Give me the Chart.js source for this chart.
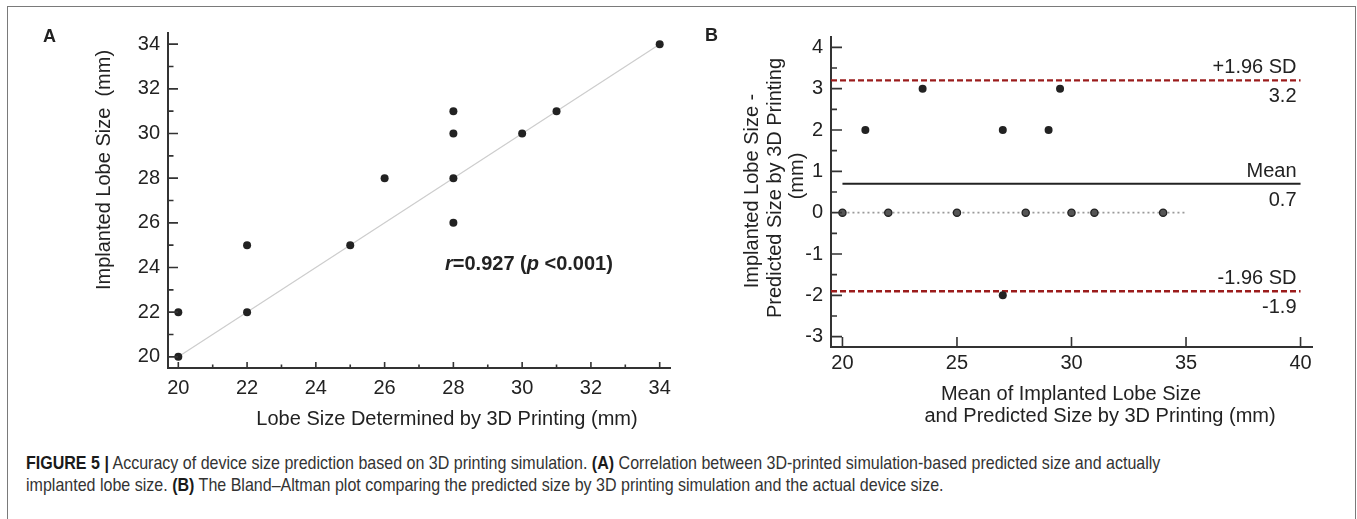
<!DOCTYPE html>
<html>
<head>
<meta charset="utf-8">
<script src="https://cdn.jsdelivr.net/npm/chart.js@4.4.1/dist/chart.umd.min.js"></script>
<style>
  body { margin: 0; background: #fff; width: 1357px; height: 519px; overflow: hidden; position: relative;
         font-family: 'Liberation Sans', Arial, sans-serif; }
  #frame { position: absolute; left: 7px; top: 6px; width: 1347px; height: 560px; border: 1.5px solid #7a7a7a; }
  #chartA { position: absolute; left: 0; top: 0; }
  #chartB { position: absolute; left: 690px; top: 0; }
  .ln { position: absolute; left: 26px; white-space: nowrap; font-size: 19px; line-height: 22px; color: #333;
        transform-origin: 0 0; }
  .ln b { color: #1a1a1a; }
  #ln1 { top: 452px; }
  #ln2 { top: 474px; }
</style>
</head>
<body>
<div id="frame"></div>
<canvas id="chartA" width="690" height="440"></canvas>
<canvas id="chartB" width="667" height="440"></canvas>
<div class="ln" id="ln1"><b>FIGURE 5 |</b> Accuracy of device size prediction based on 3D printing simulation. <b>(A)</b> Correlation between 3D-printed simulation-based predicted size and actually</div>
<div class="ln" id="ln2">implanted lobe size. <b>(B)</b> The Bland–Altman plot comparing the predicted size by 3D printing simulation and the actual device size.</div>
<script>
// panel A - correlation
const lobe3D = [20, 20, 22, 22, 25, 26, 28, 28, 28, 28, 30, 31, 34];
const lobeImplanted = [20, 22, 22, 25, 25, 28, 26, 28, 30, 31, 30, 31, 34];
const fitX = [20, 34];
const fitY = [20, 34];
const ticksA = [20, 22, 24, 26, 28, 30, 32, 34];
const minorA = [21, 23, 25, 27, 29, 31, 33];

// panel B - Bland-Altman
const baMean = [21, 23.5, 27, 29, 29.5, 27];
const baDiff = [2, 3, 2, 2, 3, -2];
const zeroMean = [20, 22, 25, 28, 30, 31, 34];
const zeroDiff = [0, 0, 0, 0, 0, 0, 0];
const zeroLineX = [20, 35];
const limitNames = ['+1.96 SD', 'Mean', '-1.96 SD'];
const limitValues = [3.2, 0.7, -1.9];
const limitFrom = [19.5, 20, 19.5];
const limitTo = [40, 40, 40];
const ticksBX = [20, 25, 30, 35, 40];
const ticksBY = [-3, -2, -1, 0, 1, 2, 3, 4];
const minorBY = [-2.5, -1.5, -0.5, 0.5, 1.5, 2.5, 3.5];

Chart.defaults.font.family = "'Liberation Sans', Arial, sans-serif";
Chart.defaults.font.size = 20;
Chart.defaults.color = '#222';

const INK = '#222';
const RED = '#9b1c1c';

function pts(xs, ys) { return xs.map((x, i) => ({ x: x, y: ys[i] })); }

function tickMarks(ctx, scale, values, len) {
  ctx.save();
  ctx.strokeStyle = '#333';
  ctx.lineWidth = 1.6;
  ctx.beginPath();
  values.forEach(v => {
    const p = scale.getPixelForValue(v);
    if (scale.isHorizontal()) { ctx.moveTo(p, scale.top); ctx.lineTo(p, scale.top - len); }
    else { ctx.moveTo(scale.right, p); ctx.lineTo(scale.right + len, p); }
  });
  ctx.stroke();
  ctx.restore();
}

function text(ctx, str, x, y, opts) {
  opts = opts || {};
  ctx.save();
  ctx.font = (opts.weight || 'normal') + ' ' + (opts.size || 20) + 'px ' + Chart.defaults.font.family;
  ctx.fillStyle = opts.color || INK;
  ctx.textAlign = opts.align || 'center';
  ctx.textBaseline = 'alphabetic';
  ctx.translate(x, y);
  if (opts.rotate) ctx.rotate(opts.rotate);
  ctx.fillText(str, 0, 0);
  ctx.restore();
}

function axisBase(min, max, ticks, pad, fit) {
  return {
    type: 'linear', min: min, max: max,
    grid: { display: false, drawTicks: false },
    border: { display: true, color: '#333', width: 2 },
    ticks: { padding: pad, color: INK, font: { size: 20 } },
    afterBuildTicks: s => { s.ticks = ticks.map(v => ({ value: v })); },
    afterFit: fit
  };
}

const decorA = {
  id: 'decorA',
  afterDraw(chart) {
    const ctx = chart.ctx, sx = chart.scales.x, sy = chart.scales.y;
    tickMarks(ctx, sx, ticksA, 6);
    tickMarks(ctx, sx, minorA, 3.5);
    tickMarks(ctx, sy, ticksA, 10);
    tickMarks(ctx, sy, minorA, 5.5);
    text(ctx, 'A', 43, 42, { weight: 'bold', size: 18, align: 'left' });
    text(ctx, 'Implanted Lobe Size  (mm)', 110, 170, { rotate: -Math.PI / 2 });
    text(ctx, 'Lobe Size Determined by 3D Printing (mm)', 447, 425);
    // correlation note, r and p italic
    ctx.save();
    let x = 445;
    const y = 270;
    [['r', 'italic bold'], ['=0.927 (', 'bold'], ['p', 'italic bold'], [' <0.001)', 'bold']].forEach(part => {
      ctx.font = part[1] + ' 20px ' + Chart.defaults.font.family;
      ctx.fillStyle = INK;
      ctx.fillText(part[0], x, y);
      x += ctx.measureText(part[0]).width;
    });
    ctx.restore();
  }
};

new Chart(document.getElementById('chartA'), {
  type: 'scatter',
  data: {
    datasets: [
      { data: pts(lobe3D, lobeImplanted), backgroundColor: INK, borderWidth: 0, pointRadius: 4, order: 1 },
      { type: 'line', data: pts(fitX, fitY), borderColor: '#cdcdcd', borderWidth: 1.2, pointRadius: 0, order: 2 }
    ]
  },
  options: {
    responsive: false, animation: false,
    layout: { padding: { top: 33, right: 20, left: 0, bottom: 0 } },
    plugins: { legend: { display: false }, tooltip: { enabled: false } },
    scales: {
      x: axisBase(19.7, 34.3, ticksA, 8, s => { s.height = 72; }),
      y: axisBase(19.5, 34.5, ticksA, 8, s => { s.width = 168; })
    }
  },
  plugins: [decorA]
});

const decorB = {
  id: 'decorB',
  afterDraw(chart) {
    const ctx = chart.ctx, sx = chart.scales.x, sy = chart.scales.y;
    tickMarks(ctx, sx, ticksBX, 10);
    tickMarks(ctx, sy, ticksBY, 11);
    tickMarks(ctx, sy, minorBY, 6);
    text(ctx, 'B', 15, 41, { weight: 'bold', size: 18, align: 'left' });
    text(ctx, 'Implanted Lobe Size -', 68, 191, { rotate: -Math.PI / 2 });
    text(ctx, 'Predicted Size by 3D Printing', 91, 188, { rotate: -Math.PI / 2 });
    text(ctx, '(mm)', 113, 176, { rotate: -Math.PI / 2 });
    text(ctx, 'Mean of Implanted Lobe Size', 381, 400);
    text(ctx, 'and Predicted Size by 3D Printing (mm)', 410, 422);
    const rx = sx.getPixelForValue(40) - 4;
    limitNames.forEach((name, i) => {
      const py = sy.getPixelForValue(limitValues[i]);
      text(ctx, name, rx, py - 7, { align: 'right' });
      text(ctx, limitValues[i].toFixed(1), rx, py + 22, { align: 'right' });
    });
  }
};

const limitSets = limitNames.map((name, i) => ({
  type: 'line',
  label: name,
  data: pts([limitFrom[i], limitTo[i]], [limitValues[i], limitValues[i]]),
  borderColor: name === 'Mean' ? INK : RED,
  borderWidth: name === 'Mean' ? 2.2 : 2.4,
  borderDash: name === 'Mean' ? [] : [6, 3],
  pointRadius: 0,
  order: 3
}));

new Chart(document.getElementById('chartB'), {
  type: 'scatter',
  data: {
    datasets: [
      { data: pts(baMean, baDiff), backgroundColor: INK, borderWidth: 0, pointRadius: 4, order: 1 },
      { data: pts(zeroMean, zeroDiff), backgroundColor: '#555', borderColor: '#222', borderWidth: 1.3, pointRadius: 3.6, order: 1 },
      { type: 'line', data: pts(zeroLineX, [0, 0]), borderColor: '#9a9a9a', borderWidth: 1.6, borderDash: [2, 3], pointRadius: 0, order: 2 }
    ].concat(limitSets)
  },
  options: {
    responsive: false, animation: false,
    layout: { padding: { top: 37, right: 45, left: 0, bottom: 0 } },
    plugins: { legend: { display: false }, tooltip: { enabled: false } },
    scales: {
      x: axisBase(19.5, 40.5, ticksBX, 4, s => { s.height = 93; }),
      y: axisBase(-3.25, 4.25, ticksBY, 8, s => { s.width = 141; })
    }
  },
  plugins: [decorB]
});

// squeeze caption to the condensed width of the original
const ln1 = document.getElementById('ln1');
const k = 1134 / ln1.scrollWidth;
document.querySelectorAll('.ln').forEach(el => { el.style.transform = 'scaleX(' + k + ')'; });
</script>
</body>
</html>
